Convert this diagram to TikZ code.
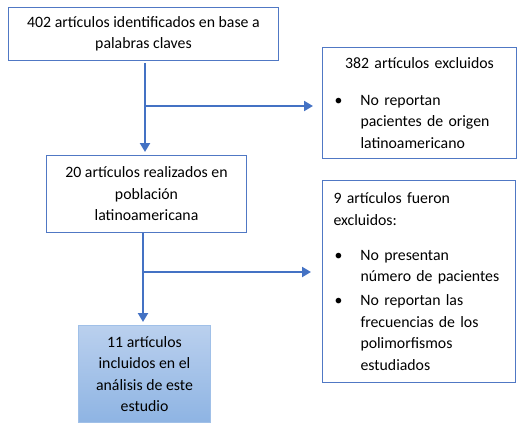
\documentclass[tikz,border=0pt]{standalone}
\usepackage{fontspec}
\setmainfont{Carlito}
\usetikzlibrary{arrows.meta}
\definecolor{accent}{RGB}{68,114,196}
\definecolor{boxline}{RGB}{80,120,196}
\definecolor{gtop}{RGB}{186,208,238}
\definecolor{gbot}{RGB}{142,180,227}
\definecolor{lightline}{RGB}{160,192,232}
\begin{document}
\begin{tikzpicture}[x=1pt,y=-1pt,
  every node/.style={font=\fontsize{15.8}{21.5}\selectfont},
  flowbox/.style={draw=boxline, line width=1pt, fill=white, anchor=north west, inner sep=0pt, align=center},
  listbox/.style={draw=boxline, line width=1pt, fill=white, anchor=north west, inner xsep=11pt, inner ysep=0pt, align=left},
  mainarrow/.style={draw=accent, line width=2.6pt, -{Triangle[width=10pt,length=9pt]}},
  sidearrow/.style={draw=accent, line width=2pt, -{Triangle[width=10pt,length=9pt]}}
]
\useasboundingbox (0,0) rectangle (525,428);
\newcommand{\bul}{\makebox[27pt][l]{\hspace{1pt}\textbullet}}
\newcommand{\ind}{\hspace*{27pt}}

\node[flowbox, minimum width=270pt, minimum height=53pt] (b1) at (8,7)
  {402 artículos identificados en base a\\palabras claves};
\node[flowbox, minimum width=200pt, minimum height=77pt] (b2) at (46,155)
  {20 artículos realizados en\\población\\latinoamericana};
\node[draw=lightline, line width=1pt, top color=gtop, bottom color=gbot, anchor=north west,
  inner sep=0pt, align=center, minimum width=132pt, minimum height=97pt] (b5) at (78,325)
  {11 artículos\\incluidos en el\\análisis de este\\estudio};
\node[listbox, text width=172pt, minimum height=111pt] (b3) at (322,47)
  {\makebox[172pt]{382 artículos excluidos}\\[15pt]
   \bul No reportan\\ \ind pacientes de origen\\ \ind latinoamericano};
\node[listbox, text width=171pt, minimum height=202pt] (b4) at (322,180)
  {9 artículos fueron\\excluidos:\\[13.5pt]
   \bul No presentan\\ \ind número de pacientes\\[2.5pt]
   \bul No reportan las\\ \ind frecuencias de los\\ \ind polimorfismos\\ \ind estudiados};

\coordinate (j1) at (145,106);
\coordinate (j2) at (143,272);
\draw[mainarrow, shorten <=2pt, shorten >=3pt] (b1.south -| j1) -- (b2.north -| j1);
\draw[sidearrow, shorten >=9pt] (j1) -- (b3.west |- j1);
\draw[mainarrow, shorten >=3pt] (b2.south -| j2) -- (b5.north -| j2);
\draw[sidearrow, shorten >=11pt] (j2) -- (b4.west |- j2);
\end{tikzpicture}
\end{document}
